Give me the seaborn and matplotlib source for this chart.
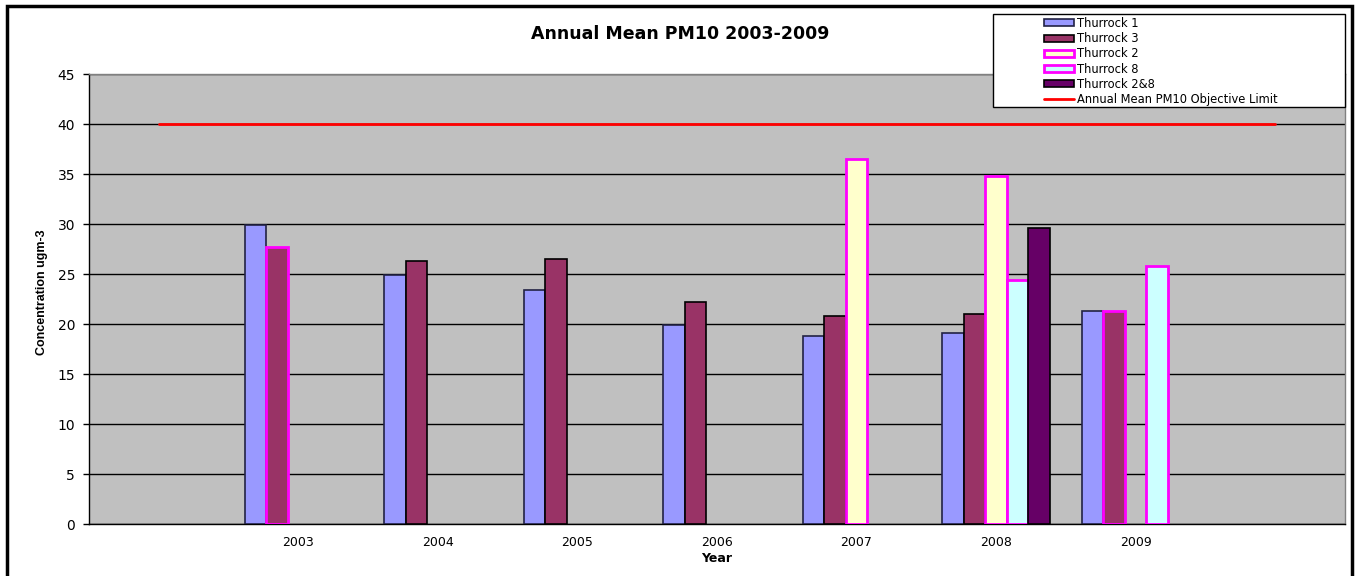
import numpy as np
import pandas as pd
import matplotlib
matplotlib.use("Agg")
import matplotlib.pyplot as plt
import seaborn as sns
from matplotlib.patches import Rectangle, Patch
from matplotlib.lines import Line2D

# Annual mean PM10 (ugm-3) per monitoring site
years = ["2003", "2004", "2005", "2006", "2007", "2008", "2009"]
thurrock_1 = [29.9, 24.9, 23.4, 19.9, 18.8, 19.1, 21.3]
thurrock_3 = [27.7, 26.3, 26.5, 22.2, 20.8, 21.0, 21.3]
thurrock_2 = [None, None, None, None, 36.5, 34.8, None]
thurrock_8 = [None, None, None, None, None, 24.4, 25.8]
thurrock_2_8 = [None, None, None, None, None, 29.6, None]
objective_limit = 40

series_names = ["Thurrock 1", "Thurrock 3", "Thurrock 2", "Thurrock 8", "Thurrock 2&8"]
limit_label = "Annual Mean PM10 Objective Limit"

# the original chart has an empty category slot either side of the years
categories = ["before"] + years + ["after"]

fill_colors = {
    "Thurrock 1": "#9999FF",
    "Thurrock 3": "#993366",
    "Thurrock 2": "#FFFFCC",
    "Thurrock 8": "#CCFFFF",
    "Thurrock 2&8": "#660066",
}
edge_colors = {
    "Thurrock 1": "#222244",
    "Thurrock 3": "black",
    "Thurrock 2": "#FF00FF",
    "Thurrock 8": "#FF00FF",
    "Thurrock 2&8": "black",
}
# a couple of single bars were outlined in magenta in the original
magenta_outlined = [("Thurrock 3", "2003"), ("Thurrock 3", "2009")]


def build_frame():
    rows = []
    all_values = [thurrock_1, thurrock_3, thurrock_2, thurrock_8, thurrock_2_8]
    for name, values in zip(series_names, all_values):
        for year, v in zip(years, values):
            if v is not None:
                rows.append({"Year": year, "Site": name, "PM10": v})
    return pd.DataFrame(rows)


def main():
    sns.set_theme(style="white")
    plt.rcParams["font.family"] = ["DejaVu Sans"]
    plt.rcParams["text.color"] = "black"

    df = build_frame()

    W, H = 1355, 576
    fig = plt.figure(figsize=(W / 100, H / 100), dpi=100)
    ax = fig.add_axes([89 / W, 52 / H, 1256 / W, 450 / H])

    sns.barplot(
        data=df, x="Year", y="PM10", hue="Site",
        order=categories, hue_order=series_names,
        palette=fill_colors, saturation=1, width=0.77,
        errorbar=None, legend=False, ax=ax, zorder=3,
    )

    # outlines per series
    for name, container in zip(series_names, ax.containers):
        for bar in container:
            idx = int(round(bar.get_x() + bar.get_width() / 2))
            if (name, categories[idx]) in magenta_outlined or edge_colors[name] == "#FF00FF":
                bar.set_edgecolor("#FF00FF")
                bar.set_linewidth(2)
            else:
                bar.set_edgecolor(edge_colors[name])
                bar.set_linewidth(1.2)

    # objective limit line across every category slot
    ax.plot(np.arange(len(categories)), [objective_limit] * len(categories),
            color="#FF0000", lw=2, zorder=4)

    ax.set_facecolor("#C0C0C0")
    ax.set_xlim(-0.5, len(categories) - 0.5)
    ax.set_ylim(0, 45)
    ax.set_yticks(np.arange(0, 46, 5))
    ax.yaxis.grid(True, color="black", lw=1)
    ax.xaxis.grid(False)
    ax.set_axisbelow(True)

    ax.set_xticks(np.arange(-0.5, len(categories)), labels=[""] * (len(categories) + 1))
    ax.set_xticks(np.arange(1, len(years) + 1), labels=years, minor=True)
    ax.tick_params(axis="x", which="major", length=4, width=1, color="black", direction="out")
    ax.tick_params(axis="x", which="minor", length=0, pad=9, labelsize=9, labelcolor="black")
    ax.tick_params(axis="y", length=4, width=1, color="black", direction="out",
                   left=True, pad=6, labelsize=10, labelcolor="black")

    for side in ["left", "bottom"]:
        ax.spines[side].set_color("black")
        ax.spines[side].set_linewidth(1)
    for side in ["top", "right"]:
        ax.spines[side].set_color("#808080")
        ax.spines[side].set_linewidth(1)

    ax.set_xlabel("Year", fontsize=9, fontweight="bold", color="black")
    ax.xaxis.set_label_coords(0.5, -0.062)
    ax.set_ylabel("Concentration ugm-3", fontsize=9, fontweight="bold", color="black",
                  family=["Liberation Sans Narrow", "Liberation Sans"])
    ax.yaxis.set_label_coords(-0.033, 0.516)

    fig.text(680 / W, 1 - 34 / H, "Annual Mean PM10 2003-2009",
             ha="center", va="center", fontsize=12.5, fontweight="bold", color="black")

    # legend box
    fig.patches.append(Rectangle((993 / W, 1 - 107 / H), 352 / W, 93 / H,
                                 transform=fig.transFigure, facecolor="white",
                                 edgecolor="black", lw=1, zorder=4))
    handles = [Patch(facecolor=fill_colors[n], edgecolor=edge_colors[n],
                     lw=2 if edge_colors[n] == "#FF00FF" else 1.2) for n in series_names]
    handles.append(Line2D([0], [0], color="#FF0000", lw=2))
    fig.legend(handles, series_names + [limit_label], loc="upper left",
               bbox_to_anchor=(1044 / W, 1 - 17 / H), frameon=False,
               fontsize=8.3, handlelength=2.6, handleheight=0.55, handletextpad=0.3,
               labelspacing=0.19, borderpad=0, borderaxespad=0, labelcolor="black")

    # chart area frame
    fig.patches.append(Rectangle((7 / W, -0.02), 1345 / W, 1.02 - 6 / H,
                                 transform=fig.transFigure, fill=False,
                                 edgecolor="black", lw=2.5, zorder=10))

    fig.savefig("out.png", dpi=100)
    plt.close(fig)


if __name__ == "__main__":
    main()
